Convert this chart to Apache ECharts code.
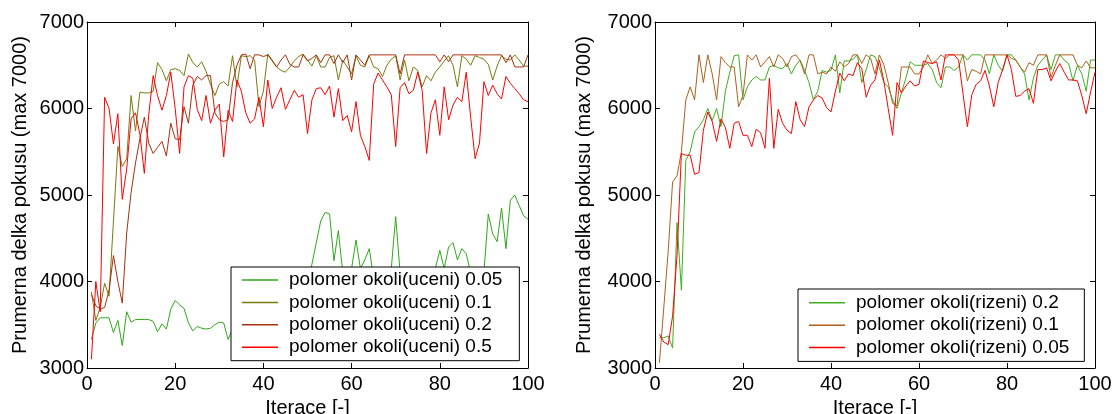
<!DOCTYPE html>
<html>
<head>
<meta charset="utf-8">
<script src="https://cdn.jsdelivr.net/npm/echarts@6/dist/echarts.min.js"></script>
<style>html,body{margin:0;padding:0;background:#fff}#c{width:1112px;height:414px}</style>
</head>
<body>
<div id="c"></div>
<script>
// x ticks / y ticks
const xTicks = [0, 20, 40, 60, 80, 100];
const yTicks = [3000, 4000, 5000, 6000, 7000];

// Left panel: polomer okoli (uceni)
const leftNames = ['polomer okoli(uceni) 0.05', 'polomer okoli(uceni) 0.1', 'polomer okoli(uceni) 0.2', 'polomer okoli(uceni) 0.5'];
const uceni005 = [3330,3520,3580,3580,3580,3410,3550,3260,3650,3530,3560,3560,3560,3560,3540,3420,3510,3450,3680,3780,
  3730,3690,3520,3430,3480,3460,3450,3460,3500,3530,3520,3330,3450,3550,3620,3700,3600,3750,3850,3700,
  3800,3950,3850,3900,4050,3950,3900,4050,4000,3950,4200,4450,4700,4800,4780,4240,4590,4100,3950,4150,
  4480,4150,4250,4380,4050,3900,3950,4000,4150,4750,4100,3950,3850,3900,4000,3950,3900,4050,4150,4360,
  4150,4400,4450,4250,4380,4320,4100,4000,3950,4100,4780,4550,4460,4850,4380,4940,5000,4880,4760,4720];
const uceni01 = [3880,3550,3700,3980,3830,4700,5560,5330,5420,6150,5740,6190,6180,6180,6200,6530,6450,6320,6450,6460,
  6440,6380,6630,6530,6480,6540,6430,6280,6150,6280,6310,6260,6610,6250,6610,6600,6610,6560,6020,6200,
  6630,6560,6480,6440,6420,6480,6550,6600,6630,6560,6490,6610,6480,6480,6590,6610,6330,6560,6480,6400,
  6610,6500,6480,6610,6480,6460,6370,6500,6570,6610,6330,6560,6320,6480,6440,6250,6380,6320,6420,6480,
  6550,6610,6500,6250,6610,6570,6500,6610,6590,6570,6510,6330,6490,6610,6570,6560,6620,6560,6490,6490];
const uceni02 = [3850,3720,3680,3700,3900,4300,4000,3750,4560,5030,5370,5650,5900,5600,5480,5550,5620,5450,5830,5650,
  5640,6020,5830,6270,6370,6330,6380,6380,5950,5870,5850,5870,6300,6500,6620,6630,6460,6620,6620,6600,
  6620,6550,6480,6560,6620,6510,6480,6480,6620,6550,6580,6620,6530,6620,6620,6520,6620,6530,6620,6330,
  6620,6560,6500,6620,6620,6620,6620,6620,6620,6620,6400,6620,6620,6620,6620,6620,6620,6620,6620,6540,
  6620,6540,6620,6620,6620,6620,6620,6620,6620,6620,6620,6620,6620,6620,6530,6620,6480,6480,6480,6620];
const uceni05 = [3100,4000,3650,6130,6000,5590,5940,4950,5300,5880,5950,5700,5250,5930,6380,6150,5980,6150,6420,6000,
  5480,6250,6380,6350,5990,5860,6150,5830,5980,6050,5440,5980,5850,6330,6200,5950,5830,5880,6130,5790,
  6330,6000,6130,6240,5990,6100,6210,6130,6160,5710,6100,6230,6240,6160,6260,5900,6230,5860,5920,5730,
  6080,5690,5560,5400,6280,6410,6330,6250,6160,5560,6240,6300,6170,6210,6420,6210,5480,5950,6100,5690,
  6250,5870,6040,6130,6080,6420,5900,5420,5600,6310,6150,6270,6170,6110,6370,6290,6230,6170,6100,6080];

// Right panel: polomer okoli (rizeni)
const rightNames = ['polomer okoli(rizeni) 0.2', 'polomer okoli(rizeni) 0.1', 'polomer okoli(rizeni) 0.05'];
const rizeni02 = [3350,3350,3370,3230,4680,3900,5400,5500,5730,5790,5870,6000,5860,6000,5790,6200,6420,6610,6620,6100,
  6250,6330,6370,6330,6330,6480,6500,6470,6460,6520,6400,6500,6560,6440,6300,6100,6200,6440,6420,6440,
  6620,6180,6550,6550,6570,6620,6300,6450,6620,6600,6470,6300,6250,6100,6000,6180,6350,6540,6500,6500,
  6500,6520,6450,6300,6240,6480,6480,6440,6480,6620,6560,6620,6620,6620,6560,6400,6620,6500,6430,6620,
  6620,6560,6480,6400,6100,6350,6500,6560,6620,6450,6620,6620,6560,6520,6320,6500,6400,6200,6560,6560];
const rizeni01 = [3060,3700,4350,5150,5220,5500,6100,6250,6100,6620,6300,6620,6400,6100,6600,6530,6480,6480,6020,6150,
  6620,6560,6620,6480,6540,6600,6480,6620,6580,6480,6600,6620,6550,6400,6620,6620,6400,6420,6400,6480,
  6430,6540,6480,6520,6620,6620,6520,6620,6580,6400,6620,6510,6300,6060,6030,6480,6480,6480,6400,6400,
  6480,6620,6520,6560,6620,6580,6620,6620,6620,6620,6320,6450,6430,6400,6620,6620,6620,6620,6620,6620,
  6580,6560,6480,6420,6530,6500,6620,6620,6620,6360,6500,6620,6620,6620,6620,6500,6470,6550,6470,6470];
const rizeni005 = [3390,3300,3270,3600,4300,5480,5460,5460,5240,5260,5750,5960,5850,5620,5880,5780,5540,5830,5850,5690,
  5690,5560,5760,5720,5540,6350,5540,5990,5830,5750,5710,6080,5870,5790,6020,6100,6150,6120,6010,5960,
  6200,6410,6320,6400,6380,6530,6460,6130,6270,6330,6560,6320,6000,5690,6300,6180,6260,6320,6260,6280,
  6550,6530,6520,6540,6330,6620,6620,6620,6560,6170,5790,6160,6280,6320,6440,6260,6020,6300,6450,6620,
  6450,6140,6150,6200,6230,6060,6450,6450,6470,6320,6430,6520,6420,6330,6330,6320,6150,5940,6190,6420];

const leftColors = ['#2fa81a', '#7a7a10', '#a8300e', '#ff0000'];
const rightColors = ['#3fae1e', '#b0601c', '#ff0000'];

const FONT = 'Liberation Sans, Arial, sans-serif';
const FS = 19;
const TFS = 20;

function pts(arr) { return arr.map((v, i) => [i + 1, v]); }

function xAx(grid, pos) {
  const main = pos === 'bottom';
  return {
    type: 'value', gridIndex: grid, position: pos, min: xTicks[0], max: xTicks[xTicks.length - 1], interval: 20,
    name: main ? 'Iterace [-]' : '', nameLocation: 'middle', nameGap: 28,
    nameTextStyle: { color: '#000', fontFamily: FONT, fontSize: TFS },
    axisLine: { show: true, onZero: false, lineStyle: { color: '#000', width: 1 } },
    axisTick: { show: true, inside: true, length: 5, lineStyle: { color: '#000' } },
    axisLabel: { show: main, color: '#000', fontFamily: FONT, fontSize: TFS, margin: 6, formatter: v => String(v) },
    splitLine: { show: false }
  };
}
function yAx(grid, pos, gap) {
  const main = pos === 'left';
  return {
    type: 'value', gridIndex: grid, position: pos, min: yTicks[0], max: yTicks[yTicks.length - 1], interval: 1000,
    name: main ? 'Prumerna delka pokusu (max 7000)' : '', nameLocation: 'middle', nameGap: gap,
    nameTextStyle: { color: '#000', fontFamily: FONT, fontSize: TFS },
    axisLine: { show: true, onZero: false, lineStyle: { color: '#000', width: 1 } },
    axisTick: { show: true, inside: true, length: 5, lineStyle: { color: '#000' } },
    axisLabel: { show: main, color: '#000', fontFamily: FONT, fontSize: TFS, margin: 3, formatter: v => String(v) },
    splitLine: { show: false }
  };
}

const leftData = [uceni005, uceni01, uceni02, uceni05];
const rightData = [rizeni02, rizeni01, rizeni005];

const series = [];
leftData.forEach((d, k) => series.push({
  name: leftNames[k], type: 'line', xAxisIndex: 0, yAxisIndex: 0, data: pts(d),
  symbol: 'none', animation: false, color: leftColors[k],
  lineStyle: { width: 1, color: leftColors[k] }
}));
rightData.forEach((d, k) => series.push({
  name: rightNames[k], type: 'line', xAxisIndex: 2, yAxisIndex: 2, data: pts(d),
  symbol: 'none', animation: false, color: rightColors[k],
  lineStyle: { width: 1, color: rightColors[k] }
}));

const legendCommon = {
  orient: 'vertical', backgroundColor: '#fff', borderColor: '#000', borderWidth: 1, borderRadius: 0,
  icon: 'rect', itemWidth: 36, itemHeight: 1.5, itemGap: 3.4,
  textStyle: { color: '#000', fontFamily: FONT, fontSize: FS, padding: [0, 0, 0, 6] },
  selectedMode: false
};

const option = {
  backgroundColor: '#fff',
  animation: false,
  grid: [
    { left: 87, right: 584, top: 22, bottom: 46, containLabel: false, outerBoundsMode: 'none' },
    { left: 655, right: 17, top: 22, bottom: 46, containLabel: false, outerBoundsMode: 'none' }
  ],
  xAxis: [xAx(0, 'bottom'), xAx(0, 'top'), xAx(1, 'bottom'), xAx(1, 'top')],
  yAxis: [yAx(0, 'left', 57), yAx(0, 'right', 0), yAx(1, 'left', 61), yAx(1, 'right', 0)],
  legend: [
    Object.assign({}, legendCommon, { data: leftNames, left: 231, top: 267, padding: [3.5, 17, 4, 11] }),
    Object.assign({}, legendCommon, { data: rightNames, left: 798, top: 289, padding: [4.3, 15, 4.3, 11] })
  ],
  series: series
};

const chart = echarts.init(document.getElementById('c'), null, { renderer: 'canvas' });
chart.setOption(option);
</script>
</body>
</html>
